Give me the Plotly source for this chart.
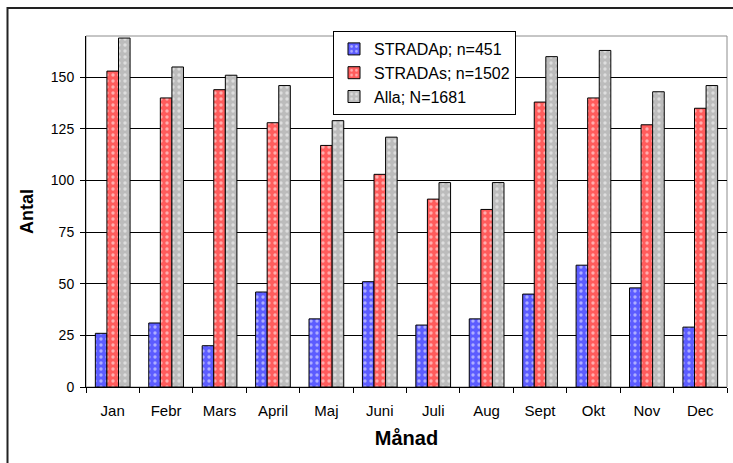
import plotly.graph_objects as go

months = ["Jan", "Febr", "Mars", "April", "Maj", "Juni", "Juli", "Aug", "Sept", "Okt", "Nov", "Dec"]
stradap = [26, 31, 20, 46, 33, 51, 30, 33, 45, 59, 48, 29]
stradas = [153, 140, 144, 128, 117, 103, 91, 86, 138, 140, 127, 135]
alla = [169, 155, 151, 146, 129, 121, 99, 99, 160, 163, 143, 146]
names = ["STRADAp; n=451", "STRADAs; n=1502", "Alla; N=1681"]
colors = ["#5c5cff", "#ff5c5c", "#bcbcbc"]
y_ticks = [0, 25, 50, 75, 100, 125, 150]

FONT = "Arial, Liberation Sans, sans-serif"

fig = go.Figure()
for name, vals, col in zip(names, [stradap, stradas, alla], colors):
    fig.add_trace(go.Bar(
        x=months, y=vals, name=name,
        marker=dict(color=col, line=dict(color="black", width=1),
                    pattern=dict(shape=".", bgcolor=col, fgcolor="white", size=6, solidity=0.25)),
    ))

W, H = 733, 463
L, R, T, B = 86, 6, 36, 76
pw, ph = W - L - R, H - T - B

fig.update_layout(
    width=W, height=H,
    margin=dict(l=L, r=R, t=T, b=B, pad=0),
    paper_bgcolor="white", plot_bgcolor="white",
    barmode="group", bargap=0.35, bargroupgap=0,
    font=dict(family=FONT, color="black"),
    legend=dict(
        x=(333 - L) / pw, y=1 + (T - 31) / ph, xanchor="left", yanchor="top",
        bgcolor="white", bordercolor="black", borderwidth=1,
        font=dict(size=16, family=FONT),
    ),
    shapes=[
        dict(type="rect", xref="paper", yref="paper", x0=0, x1=1, y0=0, y1=1,
             line=dict(color="#8c8c8c", width=1), layer="below"),
        dict(type="rect", xref="paper", yref="paper",
             x0=(7.5 - L) / pw, x1=1.1, y0=-0.4, y1=1 + (T - 8) / ph,
             line=dict(color="#222222", width=2)),
    ],
)
fig.update_xaxes(
    showline=True, linecolor="black", linewidth=1,
    ticks="outside", ticklen=5, tickcolor="black", tickson="boundaries",
    tickfont=dict(size=15, family=FONT), ticklabelstandoff=10,
    title=dict(text="<b>Månad</b>", font=dict(size=20, family=FONT), standoff=12),
)
fig.update_yaxes(
    range=[0, 170], tickvals=y_ticks,
    showline=True, linecolor="black", linewidth=1,
    showgrid=True, gridcolor="black", gridwidth=1,
    ticks="outside", ticklen=5, tickcolor="black",
    tickfont=dict(size=14, family=FONT), ticklabelstandoff=3,
    title=dict(text="<b>Antal</b>", font=dict(size=18, family=FONT), standoff=12),
    zeroline=False,
)

fig.write_html("out.html", config={"displayModeBar": False},
               post_script="document.body.style.margin='0px';")
